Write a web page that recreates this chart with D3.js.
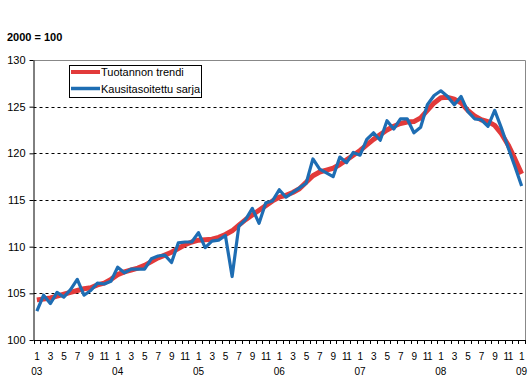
<!DOCTYPE html>
<html>
<head>
<meta charset="utf-8">
<script src="https://cdn.jsdelivr.net/npm/d3@7"></script>
<style>
  body { margin: 0; background: #fff; }
  svg { font-family: "Liberation Sans", Arial, sans-serif; }
</style>
</head>
<body>
<div id="chart"></div>
<script>
// monthly index, 2000 = 100, Jan 2003 .. Jan 2009
var years = ["03", "04", "05", "06", "07", "08", "09"];
var monthLabels = [1, 3, 5, 7, 9, 11];

var trend = [
  104.3, 104.4, 104.5, 104.7, 104.9, 105.1, 105.3, 105.5, 105.6, 105.9, 106.1, 106.5,
  107.0, 107.3, 107.5, 107.7, 108.0, 108.4, 108.8, 109.1, 109.4, 109.8, 110.2, 110.5,
  110.7, 110.75, 110.8, 111.0, 111.3, 111.7, 112.3, 112.9, 113.4, 113.9, 114.4, 114.9,
  115.3, 115.5, 115.8, 116.2, 116.9, 117.6, 118.0, 118.2, 118.4, 118.8, 119.3, 119.8,
  120.3, 120.9, 121.5, 122.0, 122.5, 122.9, 123.2, 123.35, 123.4, 123.8, 124.6, 125.4,
  125.95, 126.0, 125.8, 125.4, 124.6, 124.0, 123.6, 123.4, 123.0, 122.1, 120.9, 119.4,
  117.8
];

var adjusted = [
  103.1, 104.8, 103.9, 105.1, 104.6, 105.4, 106.5, 104.8, 105.3, 106.1, 106.0, 106.3,
  107.8, 107.2, 107.6, 107.6, 107.6, 108.7, 109.0, 109.1, 108.3, 110.4, 110.5, 110.5,
  111.5, 109.9, 110.6, 110.7, 111.2, 106.8, 112.2, 112.9, 114.1, 112.5, 114.7, 114.9,
  116.1, 115.3, 115.8, 116.3, 116.8, 119.4, 118.3, 117.9, 117.5, 119.6, 119.0, 120.1,
  119.8, 121.5, 122.2, 121.4, 123.5, 122.6, 123.7, 123.7, 122.2, 122.8, 125.2, 126.2,
  126.7, 126.1, 125.2, 126.1, 124.5, 123.7, 123.6, 122.9, 124.6, 122.7, 120.6, 118.6,
  116.5
];

var yTicks = [100, 105, 110, 115, 120, 125, 130];
var gridTicks = [105, 110, 115, 120, 125];

var W = 530, H = 384;
var pLeft = 33.5, pRight = 525, pTop = 60, pBottom = 340;

var svg = d3.select("#chart").append("svg")
  .attr("width", W)
  .attr("height", H);

var idx = d3.range(trend.length);

var x = d3.scaleBand()
  .domain(idx)
  .range([pLeft, pRight]);
var cx = function (i) { return x(i) + x.bandwidth() / 2; };

var y = d3.scaleLinear()
  .domain([100, 130])
  .range([pBottom, pTop]);

// dashed grid
svg.append("g")
  .selectAll("line")
  .data(gridTicks)
  .enter().append("line")
  .attr("x1", pLeft).attr("x2", pRight)
  .attr("y1", function (d) { return Math.round(y(d)) + 0.5; })
  .attr("y2", function (d) { return Math.round(y(d)) + 0.5; })
  .attr("stroke", "#000")
  .attr("stroke-dasharray", "3,3");

// gray frame top / right
svg.append("path")
  .attr("d", "M" + pLeft + "," + (pTop + 0.5) + "H" + (pRight + 0.5) + "V" + pBottom)
  .attr("fill", "none")
  .attr("stroke", "#888");

// y axis
var yAxis = svg.append("g")
  .attr("transform", "translate(" + pLeft + ",0)")
  .call(d3.axisLeft(y).tickValues(yTicks).tickSize(4).tickSizeOuter(0).tickPadding(4));
yAxis.select(".domain").attr("stroke", "#000");
yAxis.selectAll(".tick text").attr("font-size", 11).attr("fill", "#000");
yAxis.selectAll(".tick line").attr("stroke", "#000");

// x axis: ticks between months
var xg = svg.append("g");
xg.append("line")
  .attr("x1", pLeft).attr("x2", pRight + 0.5)
  .attr("y1", pBottom + 0.5).attr("y2", pBottom + 0.5)
  .attr("stroke", "#000");
xg.selectAll("line.tk")
  .data(d3.range(trend.length + 1))
  .enter().append("line")
  .attr("class", "tk")
  .attr("x1", function (i) { return Math.round(pLeft + i * x.bandwidth()) + 0.5; })
  .attr("x2", function (i) { return Math.round(pLeft + i * x.bandwidth()) + 0.5; })
  .attr("y1", pBottom).attr("y2", pBottom + 4)
  .attr("stroke", "#000");

xg.selectAll("text.m")
  .data(idx.filter(function (i) { return monthLabels.indexOf(i % 12 + 1) >= 0; }))
  .enter().append("text")
  .attr("class", "m")
  .attr("x", cx)
  .attr("y", 360)
  .attr("text-anchor", "middle")
  .attr("font-size", 10)
  .attr("letter-spacing", -0.5)
  .text(function (i) { return i % 12 + 1; });

xg.selectAll("text.yr")
  .data(years)
  .enter().append("text")
  .attr("class", "yr")
  .attr("x", function (d, k) { return cx(k * 12); })
  .attr("y", 375)
  .attr("text-anchor", "middle")
  .attr("font-size", 10)
  .text(function (d) { return d; });

// lines
var line = function (vals) {
  return d3.line()
    .x(function (d, i) { return cx(i); })
    .y(function (d) { return y(d); })(vals);
};

svg.append("path")
  .attr("d", line(trend))
  .attr("fill", "none")
  .attr("stroke", "#e23a3a")
  .attr("stroke-width", 5)
  .attr("stroke-linejoin", "round");

svg.append("path")
  .attr("d", line(adjusted))
  .attr("fill", "none")
  .attr("stroke", "#1e6db3")
  .attr("stroke-width", 3.2)
  .attr("stroke-linejoin", "round");

// title
svg.append("text")
  .attr("x", 7).attr("y", 41)
  .attr("font-size", 11)
  .attr("font-weight", "bold")
  .text("2000 = 100");

// legend
var lg = svg.append("g");
lg.append("rect")
  .attr("x", 69.5).attr("y", 65.5)
  .attr("width", 132).attr("height", 32)
  .attr("fill", "#fff")
  .attr("stroke", "#000");
var items = [
  { name: "Tuotannon trendi", color: "#e23a3a", w: 4 },
  { name: "Kausitasoitettu sarja", color: "#1e6db3", w: 3.5 }
];
items.forEach(function (it, k) {
  var yy = 72 + k * 16.5;
  lg.append("line")
    .attr("x1", 71).attr("x2", 100)
    .attr("y1", yy).attr("y2", yy)
    .attr("stroke", it.color)
    .attr("stroke-width", it.w);
  lg.append("text")
    .attr("x", 101).attr("y", yy + 4)
    .attr("font-size", 11)
    .text(it.name);
});
</script>
</body>
</html>
